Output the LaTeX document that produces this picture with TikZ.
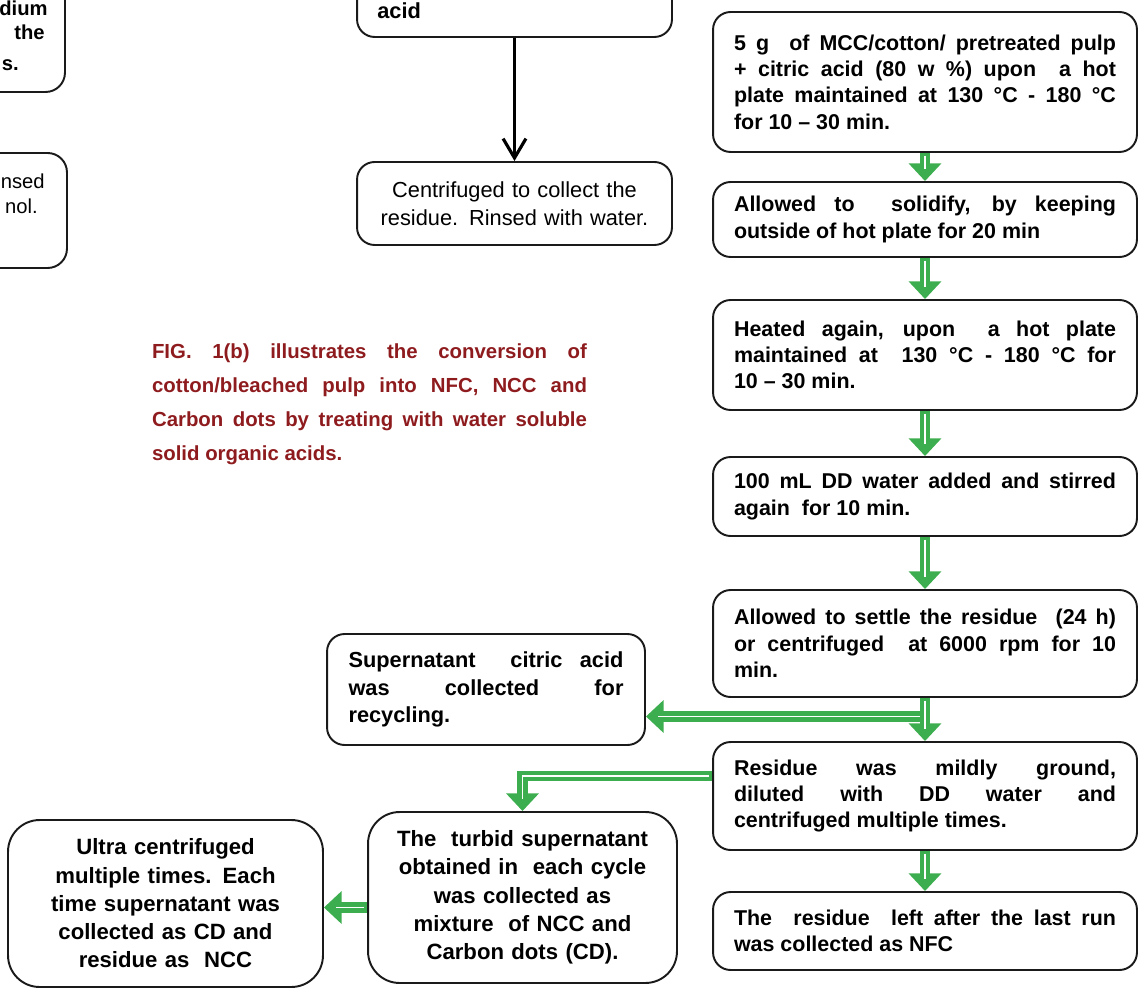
\documentclass[tikz,border=0pt]{standalone}
\usepackage{fontspec}
\setmainfont{Liberation Sans}
\usetikzlibrary{arrows.meta,calc}
\definecolor{gr}{HTML}{3DAE4F}
\definecolor{capred}{HTML}{8E1B1E}
\definecolor{bd}{HTML}{1A1A1A}
\newcommand\garrow[2][]{\draw[gout,#1] #2; \draw[gin] #2;}
\begin{document}
\begin{tikzpicture}[x=0.02cm,y=-0.02cm,
  every node/.style={execute at begin node={\hyphenpenalty=10000\exhyphenpenalty=10000}},
  rbox/.style={draw=bd, line width=1.1pt, rounded corners=10pt, minimum width=8.48cm,
    text width=7.64cm, inner xsep=0.42cm, inner ysep=0pt, align=justify,
    font=\bfseries\fontsize{12.2}{15}\selectfont},
  mbox/.style={draw=bd, line width=1.1pt, rounded corners=10pt, minimum width=6.3cm,
    text width=5.9cm, inner xsep=0.2cm, inner ysep=0pt, align=center,
    font=\fontsize{12.4}{15.8}\selectfont},
  sbox/.style={draw=bd, line width=1.1pt, rounded corners=10pt, minimum width=6.36cm,
    text width=5.5cm, inner xsep=0.43cm, inner ysep=0pt, align=justify,
    font=\bfseries\fontsize{12.4}{15.6}\selectfont},
  cbox/.style={draw=bd, line width=1.1pt, rounded corners=18pt, inner ysep=0pt,
    align=center, font=\bfseries\fontsize{12.6}{16.1}\selectfont},
  lbox/.style={draw=bd, line width=1.1pt, rounded corners=11pt, inner sep=0pt},
  frag/.style={inner sep=0pt, font=\bfseries\fontsize{11.5}{15}\selectfont},
  gout/.style={draw=gr, line width=6pt, line join=miter, -{Triangle[width=18pt,length=10pt]}},
  gin/.style={draw=white, line width=1pt, shorten >=7pt, shorten <=1.5pt},
  barrow/.style={draw=black, line width=1.8pt, -{Straight Barb[length=11pt,width=13pt]}}
]
\useasboundingbox (0,0) rectangle (1138,989);
\clip (0,0) rectangle (1138,989);

% left partial boxes
\node[lbox, minimum width=6.3cm, minimum height=3.84cm] (la) at (-92.5,-4) {};
\node[frag, anchor=base east] (la1) at (48,16) {dium};
\node[frag, anchor=base east] (la2) at (45,40) {the};
\node[frag, anchor=base east] (la3) at (19,71) {s.};
\node[lbox, minimum width=6.3cm, minimum height=2.3cm] (lb) at (-90.5,210.5) {};
\node[frag, anchor=base east, font=\fontsize{11.5}{15}\selectfont] (lb1) at (45,189) {nsed};
\node[frag, anchor=base east, font=\fontsize{11.5}{15}\selectfont] (lb2) at (38,214) {nol.};

% middle column
\node[mbox, minimum height=2.34cm] (tm) at (514.5,-21.5) {};
\node[frag, anchor=base west, font=\bfseries\fontsize{12.4}{15}\selectfont] (acid) at (377,19) {acid};
\node[mbox, minimum height=1.66cm] (cent) at (514.5,203.5) {Centrifuged to collect the\\residue. Rinsed with water.};
\draw[barrow] (tm.south) -- (cent.north);

% caption
\node[text width=8.7cm, inner sep=0pt, align=justify, text=capred,
  font=\bfseries\fontsize{11.6}{19.4}\selectfont] (cap) at (369.5,404) {FIG. 1(b) illustrates the conversion of\linebreak cotton/bleached pulp into NFC, NCC and\linebreak Carbon dots by treating with water soluble\linebreak solid organic acids.};

% right column
\node[rbox, minimum height=2.8cm] (b1) at (925,82) {5 g \ of MCC/cotton/ pretreated pulp\linebreak + citric acid (80 w \%) upon \ a hot\linebreak plate maintained at 130 °C - 180 °C\linebreak for 10 – 30 min.};
\node[rbox, minimum height=1.5cm] (b2) at (925,219.5) {Allowed to \ solidify, by keeping\linebreak outside of hot plate for 20 min};
\node[rbox, minimum height=2.2cm] (b3) at (925,355) {Heated again, upon \ a hot plate\linebreak maintained at \ 130 °C - 180 °C for\linebreak 10 – 30 min.};
\node[rbox, minimum height=1.58cm] (b4) at (925,496.5) {100 mL DD water added and stirred\linebreak again \ for 10 min.};
\node[rbox, minimum height=2.14cm] (b5) at (925,643.5) {Allowed to settle the residue \ (24 h)\linebreak or centrifuged \ at 6000 rpm for 10\linebreak min.};
\node[rbox, minimum height=2.16cm] (b6) at (925,796) {Residue was mildly ground,\linebreak diluted with DD water and\linebreak centrifuged multiple times.};
\node[rbox, minimum height=1.56cm] (b7) at (925,931) {The \ residue \ left after the last run\linebreak was collected as NFC};

% lower left boxes
\node[sbox, minimum height=2.22cm] (sup) at (486,689.5) {Supernatant \ citric acid\linebreak was collected for\linebreak recycling.};
\node[cbox, minimum width=6.18cm, minimum height=3.42cm, text width=5.9cm] (turb) at (522.5,897.5) {The \ turbid supernatant\\obtained in \ each cycle\\was collected as\\mixture \ of NCC and\\Carbon dots (CD).};
\node[cbox, minimum width=6.3cm, minimum height=3.34cm, text width=6cm] (ultra) at (165.5,903.5) {Ultra centrifuged\\multiple times. Each\\time supernatant was\\collected as CD and\\residue as \ NCC};

% green connectors
\garrow{(b1.south) -- (b2.north)}
\garrow{(b2.south) -- (b3.north)}
\garrow{(b3.south) -- (b4.north)}
\garrow{(b4.south) -- (b5.north)}
\coordinate (j1) at ($(b5.south)!0.43!(b6.north)$);
\garrow[line width=6.8pt]{(j1) -- (j1 -| sup.east)}
\garrow{(b5.south) -- (b6.north)}
\garrow{(b6.south) -- (b7.north)}
\coordinate (e1) at ($(b6.west)+(0,-20)$);
\garrow{(e1) -| (turb.north)}
\coordinate (e2) at ($(turb.west)+(0,10)$);
\garrow[line width=6.8pt]{(e2) -- (e2 -| ultra.east)}
\end{tikzpicture}
\end{document}
